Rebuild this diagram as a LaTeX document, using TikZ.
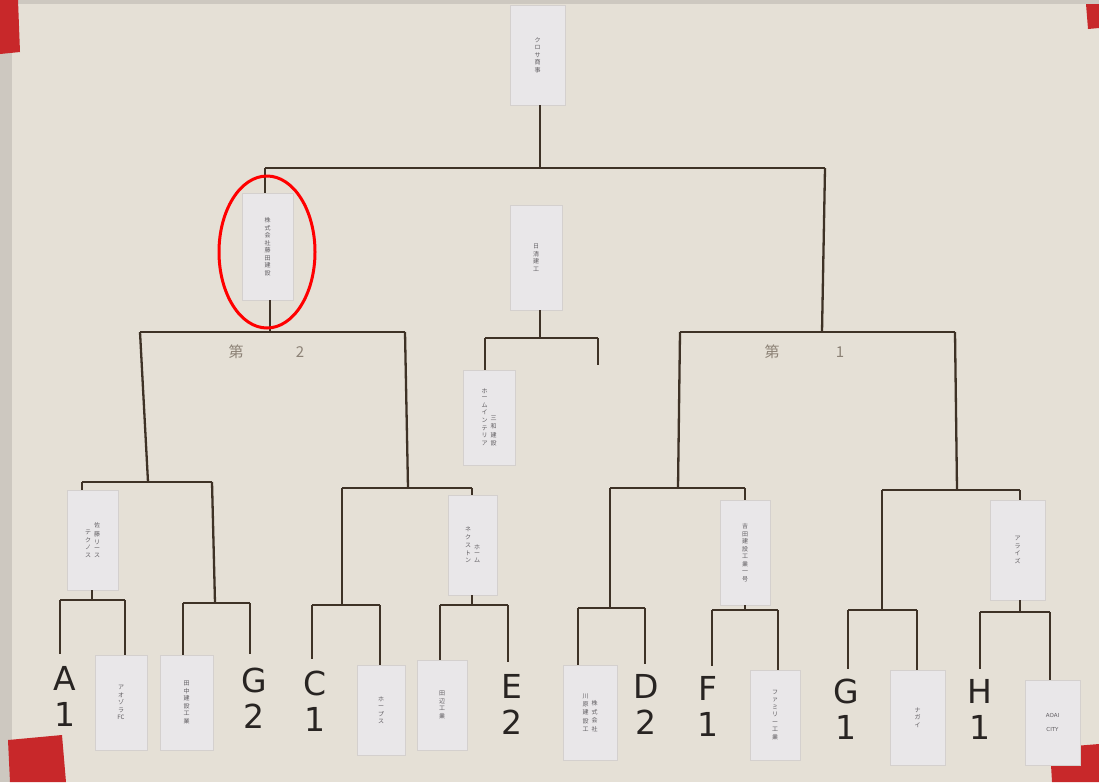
\documentclass[tikz,border=0pt]{standalone}
\usepackage{fontspec}
\setsansfont{DejaVu Sans}
\newfontfamily\jp{Noto Sans CJK JP}
\definecolor{paper}{RGB}{229,224,214}
\definecolor{paperedge}{RGB}{205,200,192}
\definecolor{linecol}{RGB}{62,50,38}
\definecolor{cardcol}{RGB}{233,231,233}
\definecolor{cardedge}{RGB}{212,208,206}
\definecolor{cardtext}{RGB}{95,92,96}
\definecolor{tape}{RGB}{200,40,42}
\definecolor{ink}{RGB}{40,36,34}
\definecolor{faint}{RGB}{140,130,118}
\begin{document}
\begin{tikzpicture}[x=1pt,y=-1pt,
  ln/.style={draw=linecol, line width=2.3pt},
  card/.style={fill=cardcol, draw=cardedge, line width=0.6pt, inner sep=1pt,
    font=\jp\fontsize{6}{7.5}\selectfont, text=cardtext, align=center},
  hand/.style={font=\sffamily\fontsize{33}{36}\selectfont, text=ink, align=center, inner sep=0pt},
  faintlbl/.style={font=\jp\fontsize{15}{15}\selectfont, text=faint, inner sep=0pt}]
\useasboundingbox (0,0) rectangle (1099,782);
% paper
\fill[paper] (0,0) rectangle (1099,782);
\fill[paperedge] (0,0) rectangle (12,782);
\fill[paperedge] (0,0) rectangle (1099,4);
% tape
\fill[tape] (0,0) -- (18,0) -- (20,52) -- (0,54) -- cycle;
\fill[tape] (1086,4) -- (1099,4) -- (1099,28) -- (1088,29) -- cycle;
\fill[tape] (8,740) -- (62,735) -- (66,782) -- (10,782) -- cycle;
\fill[tape] (1050,748) -- (1099,744) -- (1099,782) -- (1052,782) -- cycle;

% cards
\node[card, minimum width=55pt, minimum height=100pt] (top) at (537.5,55) {ク\\ロ\\サ\\商\\事};
\node[card, minimum width=51pt, minimum height=107pt] (semiL) at (267.5,246.5) {株\\式\\会\\社\\藤\\田\\建\\設};
\node[card, minimum width=52pt, minimum height=105pt] (mid) at (536,257.5) {日\\清\\建\\工};
\node[card, minimum width=52pt, minimum height=95pt] (midL) at (489,417.5) {\shortstack{ホ\\ー\\ム\\イ\\ン\\テ\\リ\\ア}\hspace{3pt}\shortstack{三\\和\\建\\設}};
\node[card, minimum width=51pt, minimum height=100pt] (qA) at (92.5,540) {\shortstack{テ\\ク\\ノ\\ス}\hspace{3pt}\shortstack{佐\\藤\\リ\\ー\\ス}};
\node[card, minimum width=49pt, minimum height=100pt] (qC) at (472.5,545) {\shortstack{ネ\\ク\\ス\\ト\\ン}\hspace{3pt}\shortstack{ホ\\ー\\ム}};
\node[card, minimum width=50pt, minimum height=105pt] (qD) at (745,552.5) {吉\\田\\建\\設\\工\\業\\一\\号};
\node[card, minimum width=55pt, minimum height=100pt] (qH) at (1017.5,550) {ア\\ラ\\イ\\ズ};
\node[card, minimum width=52pt, minimum height=95pt] (b1) at (121,702.5) {ア\\オ\\ゾ\\ラ\\FC};
\node[card, minimum width=53pt, minimum height=95pt] (b2) at (186.5,702.5) {田\\中\\建\\設\\工\\業};
\node[card, minimum width=48pt, minimum height=90pt] (b3) at (381,710) {ホ\\ー\\プ\\ス};
\node[card, minimum width=50pt, minimum height=90pt] (b4) at (442,705) {田\\辺\\工\\業};
\node[card, minimum width=54pt, minimum height=95pt] (b5) at (590,712.5) {\shortstack{川\\原\\建\\設\\工}\hspace{3pt}\shortstack{株\\式\\会\\社}};
\node[card, minimum width=50pt, minimum height=90pt] (b6) at (775,715) {フ\\ァ\\ミ\\リ\\ー\\工\\業};
\node[card, minimum width=55pt, minimum height=95pt] (b7) at (917.5,717.5) {ナ\\ガ\\イ};
\node[card, minimum width=55pt, minimum height=85pt, font=\sffamily\fontsize{5.5}{14}\selectfont] (b8) at (1052.5,722.5) {AOAI\\CITY};

% hand-written seeds
\node[hand] (sA1) at (65,696) {A\\1};
\node[hand] (sG2) at (254,698) {G\\2};
\node[hand] (sC1) at (315,701) {C\\1};
\node[hand] (sE2) at (512,704) {E\\2};
\node[hand] (sD2) at (646,704) {D\\2};
\node[hand] (sF1) at (708,706) {F\\1};
\node[hand] (sG1) at (846,709) {G\\1};
\node[hand] (sH1) at (980,709) {H\\1};
\node[faintlbl] (dai2) at (236,352) {第};
\node[faintlbl] (n2) at (300,352) {2};
\node[faintlbl] (dai1) at (772,352) {第};
\node[faintlbl] (n1) at (840,352) {1};

% junction coordinates
\coordinate (f) at (540,168);
\coordinate (fL) at (265,168);
\coordinate (fR) at (825,168);
\coordinate (sL) at (270,332);
\coordinate (sLl) at (140,332);
\coordinate (sLr) at (405,332);
\coordinate (sR) at (822,332);
\coordinate (sRl) at (680,332);
\coordinate (sRr) at (955,332);
\coordinate (m) at (540,338);
\coordinate (mL) at (485,338);
\coordinate (mR) at (598,338);
\coordinate (mRend) at (598,365);
% quarter level
\coordinate (q1) at (148,482);
\coordinate (q1l) at (82,482);
\coordinate (q1r) at (212,482);
\coordinate (q2) at (408,488);
\coordinate (q2l) at (342,488);
\coordinate (q2r) at (472,488);
\coordinate (q3) at (678,488);
\coordinate (q3l) at (610,488);
\coordinate (q3r) at (745,488);
\coordinate (q4) at (957,490);
\coordinate (q4l) at (882,490);
\coordinate (q4r) at (1020,490);
% first round
\coordinate (r1) at (92,600);   \coordinate (r1l) at (60,600);   \coordinate (r1r) at (125,600);
\coordinate (r2) at (215,603);  \coordinate (r2l) at (183,603);  \coordinate (r2r) at (250,603);
\coordinate (r3) at (342,605);  \coordinate (r3l) at (312,605);  \coordinate (r3r) at (380,605);
\coordinate (r4) at (472,605);  \coordinate (r4l) at (440,605);  \coordinate (r4r) at (508,605);
\coordinate (r5) at (610,608);  \coordinate (r5l) at (578,608);  \coordinate (r5r) at (645,608);
\coordinate (r6) at (745,610);  \coordinate (r6l) at (712,610);  \coordinate (r6r) at (778,610);
\coordinate (r7) at (882,610);  \coordinate (r7l) at (848,610);  \coordinate (r7r) at (917,610);
\coordinate (r8) at (1020,612); \coordinate (r8l) at (980,612);  \coordinate (r8r) at (1050,612);

% final
\draw[ln] (top.south -| f) -- (f);
\draw[ln] (fL) -- (fR);
\draw[ln] (fL) -- (semiL.north -| fL);
\draw[ln] (semiL.south -| sL) -- (sL);
\draw[ln] (fR) -- (sR);
% semis
\draw[ln] (sLl) -- (sLr);
\draw[ln] (sLl) -- (q1);
\draw[ln] (sLr) -- (q2);
\draw[ln] (sRl) -- (sRr);
\draw[ln] (sRl) -- (q3);
\draw[ln] (sRr) -- (q4);
% middle (third place)
\draw[ln] (mid.south -| m) -- (m);
\draw[ln] (mL) -- (mR);
\draw[ln] (mL) -- (midL.north -| mL);
\draw[ln] (mR) -- (mRend);
% quarters
\draw[ln] (q1l) -- (q1r);
\draw[ln] (q1l) -- (qA.north -| q1l);
\draw[ln] (q1r) -- (r2);
\draw[ln] (q2l) -- (q2r);
\draw[ln] (q2l) -- (r3);
\draw[ln] (q2r) -- (qC.north -| q2r);
\draw[ln] (q3l) -- (q3r);
\draw[ln] (q3l) -- (r5);
\draw[ln] (q3r) -- (qD.north);
\draw[ln] (q4l) -- (q4r);
\draw[ln] (q4l) -- (r7);
\draw[ln] (q4r) -- (qH.north -| q4r);
% first round
\draw[ln] (qA.south -| r1) -- (r1);
\draw[ln] (r1l) -- (r1r);
\draw[ln] (r1l) -- ([yshift=12pt]sA1.north -| r1l);
\draw[ln] (r1r) -- (b1.north -| r1r);
\draw[ln] (r2l) -- (r2r);
\draw[ln] (r2l) -- (b2.north -| r2l);
\draw[ln] (r2r) -- ([yshift=14pt]sG2.north -| r2r);
\draw[ln] (r3l) -- (r3r);
\draw[ln] (r3l) -- ([yshift=12pt]sC1.north -| r3l);
\draw[ln] (r3r) -- (b3.north -| r3r);
\draw[ln] (qC.south -| r4) -- (r4);
\draw[ln] (r4l) -- (r4r);
\draw[ln] (r4l) -- (b4.north -| r4l);
\draw[ln] (r4r) -- ([yshift=12pt]sE2.north -| r4r);
\draw[ln] (r5l) -- (r5r);
\draw[ln] (r5l) -- (b5.north -| r5l);
\draw[ln] (r5r) -- ([yshift=10pt]sD2.north -| r5r);
\draw[ln] (qD.south) -- (r6);
\draw[ln] (r6l) -- (r6r);
\draw[ln] (r6l) -- ([yshift=10pt]sF1.north -| r6l);
\draw[ln] (r6r) -- (b6.north -| r6r);
\draw[ln] (r7l) -- (r7r);
\draw[ln] (r7l) -- ([yshift=10pt]sG1.north -| r7l);
\draw[ln] (r7r) -- (b7.north -| r7r);
\draw[ln] (qH.south -| r8) -- (r8);
\draw[ln] (r8l) -- (r8r);
\draw[ln] (r8l) -- ([yshift=10pt]sH1.north -| r8l);
\draw[ln] (r8r) -- (b8.north -| r8r);

% highlight
\draw[red, line width=3pt] (267,252) ellipse [x radius=48, y radius=76];
\end{tikzpicture}
\end{document}
